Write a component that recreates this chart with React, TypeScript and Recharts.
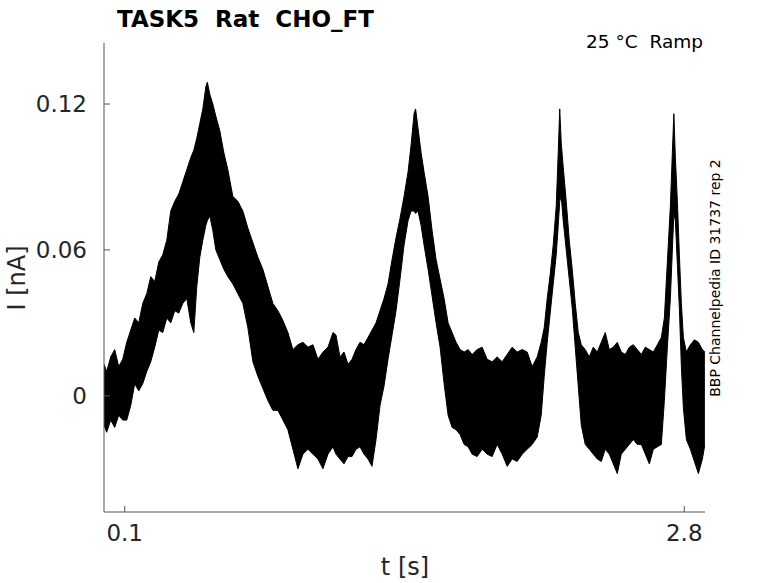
import { AreaChart, Area, XAxis, YAxis } from "recharts";

// sweep envelope (t in s, current in nA)
const times = [
  0.0, 0.013, 0.0324, 0.0517, 0.071, 0.0903, 0.1097, 0.129, 0.1483, 0.1676,
  0.187, 0.2063, 0.2256, 0.2449, 0.2643, 0.2836, 0.3029, 0.3222, 0.3415, 0.3609,
  0.3802, 0.3995, 0.4188, 0.4333, 0.4478, 0.4623, 0.4768, 0.4913, 0.4986, 0.5106,
  0.5251, 0.5396, 0.5589, 0.5783, 0.5976, 0.6217, 0.6459, 0.67, 0.6942, 0.7184,
  0.7425, 0.7667, 0.7908, 0.815, 0.8391, 0.8633, 0.8874, 0.9116, 0.9357, 0.9599,
  0.9841, 1.0082, 1.0324, 1.0565, 1.0807, 1.1048, 1.1193, 1.1386, 1.158, 1.1773,
  1.1966, 1.2159, 1.2353, 1.2546, 1.2739, 1.2932, 1.3126, 1.3319, 1.3512, 1.3705,
  1.3899, 1.4092, 1.4285, 1.4478, 1.4671, 1.4816, 1.4961, 1.5034, 1.5155, 1.53,
  1.5444, 1.5638, 1.5831, 1.6024, 1.6217, 1.6411, 1.6604, 1.6797, 1.699, 1.7184,
  1.7377, 1.757, 1.7763, 1.8005, 1.8246, 1.8488, 1.8729, 1.8971, 1.9213, 1.9454,
  1.9696, 1.9937, 2.0179, 2.042, 2.0662, 2.0903, 2.1097, 2.1242, 2.1386, 2.1531,
  2.1676, 2.1821, 2.1918, 2.199, 2.2063, 2.2159, 2.2304, 2.2449, 2.2594, 2.2739,
  2.2884, 2.3029, 2.3222, 2.3415, 2.3609, 2.3802, 2.3995, 2.4188, 2.4382, 2.4575,
  2.4768, 2.4961, 2.5155, 2.5348, 2.5541, 2.5734, 2.5928, 2.6121, 2.6314, 2.6507,
  2.67, 2.6894, 2.7039, 2.7184, 2.7329, 2.7425, 2.7498, 2.757, 2.7667, 2.7763,
  2.786, 2.7957, 2.8101, 2.8295, 2.8488, 2.8681, 2.8874, 2.8995,
];

const upper = [
  0.013, 0.01, 0.016, 0.019, 0.012, 0.015, 0.022, 0.027, 0.032, 0.03,
  0.038, 0.042, 0.049, 0.047, 0.055, 0.058, 0.064, 0.076, 0.08, 0.083,
  0.088, 0.093, 0.098, 0.101, 0.106, 0.112, 0.118, 0.127, 0.129, 0.124,
  0.12, 0.115, 0.109, 0.1, 0.093, 0.082, 0.08, 0.076, 0.069, 0.063,
  0.057, 0.052, 0.045, 0.038, 0.035, 0.031, 0.026, 0.019, 0.021, 0.022,
  0.02, 0.021, 0.015, 0.018, 0.02, 0.026, 0.025, 0.016, 0.018, 0.013,
  0.015, 0.019, 0.022, 0.021, 0.024, 0.027, 0.03, 0.035, 0.04, 0.046,
  0.056, 0.065, 0.073, 0.082, 0.092, 0.103, 0.116, 0.118, 0.11, 0.1,
  0.092, 0.082, 0.068, 0.056, 0.048, 0.04, 0.03, 0.026, 0.022, 0.019,
  0.018, 0.019, 0.017, 0.019, 0.02, 0.015, 0.014, 0.016, 0.014, 0.017,
  0.02, 0.018, 0.019, 0.018, 0.012, 0.016, 0.022, 0.028, 0.04, 0.05,
  0.062, 0.078, 0.1, 0.118, 0.104, 0.094, 0.08, 0.064, 0.052, 0.038,
  0.026, 0.021, 0.019, 0.016, 0.02, 0.018, 0.022, 0.026, 0.019, 0.02,
  0.022, 0.018, 0.017, 0.02, 0.021, 0.019, 0.017, 0.02, 0.019, 0.018,
  0.021, 0.024, 0.032, 0.055, 0.078, 0.1, 0.116, 0.098, 0.08, 0.058,
  0.038, 0.024, 0.018, 0.021, 0.023, 0.022, 0.019, 0.018,
];

const lower = [
  -0.012, -0.015, -0.01, -0.013, -0.008, -0.01, -0.01, -0.004, 0.005, 0.002,
  0.005, 0.01, 0.014, 0.02, 0.027, 0.026, 0.032, 0.03, 0.035, 0.034,
  0.038, 0.04, 0.03, 0.026, 0.045, 0.057, 0.064, 0.07, 0.072, 0.074,
  0.068, 0.06, 0.056, 0.052, 0.049, 0.046, 0.042, 0.038, 0.028, 0.014,
  0.008, 0.003, -0.002, -0.006, -0.006, -0.01, -0.014, -0.022, -0.03, -0.024,
  -0.022, -0.024, -0.026, -0.03, -0.024, -0.021, -0.024, -0.026, -0.028, -0.025,
  -0.025, -0.022, -0.021, -0.024, -0.026, -0.029, -0.018, -0.004, 0.004, 0.015,
  0.025, 0.035, 0.048, 0.062, 0.072, 0.076, 0.076, 0.075, 0.076, 0.07,
  0.062, 0.052, 0.041, 0.03, 0.02, 0.005, -0.008, -0.013, -0.014, -0.016,
  -0.02, -0.021, -0.024, -0.025, -0.022, -0.024, -0.025, -0.02, -0.024, -0.029,
  -0.026, -0.027, -0.024, -0.022, -0.02, -0.017, -0.008, 0.008, 0.022, 0.034,
  0.046, 0.058, 0.07, 0.08, 0.082, 0.072, 0.06, 0.048, 0.036, 0.02,
  0.004, -0.012, -0.02, -0.022, -0.024, -0.026, -0.027, -0.022, -0.024, -0.028,
  -0.032, -0.024, -0.022, -0.02, -0.018, -0.02, -0.02, -0.024, -0.028, -0.022,
  -0.021, -0.02, -0.002, 0.02, 0.04, 0.06, 0.075, 0.072, 0.054, 0.036,
  0.012, -0.005, -0.018, -0.022, -0.027, -0.032, -0.026, -0.02,
];

const xTicks = [0.1, 2.8];
const yTicks = [0, 0.06, 0.12];

const data = times.map((t, i) => ({ t, range: [lower[i], upper[i]] }));

const FONT = "'DejaVu Sans', sans-serif";
const AXIS = "#555";

function YTick({ x, y, payload }: any) {
  return (
    <g>
      <line x1={x} x2={x + 6} y1={y} y2={y} stroke={AXIS} />
      <text
        x={x - 17}
        y={y}
        textAnchor="end"
        dominantBaseline="central"
        fontSize={23}
        fontFamily={FONT}
        fill="#262626"
      >
        {String(payload.value)}
      </text>
    </g>
  );
}

function XTick({ x, y, payload }: any) {
  return (
    <g>
      <line x1={x} x2={x} y1={y} y2={y - 6} stroke={AXIS} />
      <text
        x={x}
        y={y + 21}
        textAnchor="middle"
        dominantBaseline="central"
        fontSize={23}
        fontFamily={FONT}
        fill="#262626"
      >
        {String(payload.value)}
      </text>
    </g>
  );
}

export default function App() {
  return (
    <div style={{ position: "absolute", left: 0, top: 0, width: 778, height: 583, background: "#fff" }}>
      <AreaChart
        width={778}
        height={583}
        data={data}
        margin={{ top: 43, right: 73, bottom: 41, left: 64 }}
      >
        <XAxis
          type="number"
          dataKey="t"
          domain={[0, 2.9]}
          ticks={xTicks}
          height={30}
          tickSize={0}
          tickMargin={0}
          tickLine={false}
          tick={<XTick />}
          axisLine={{ stroke: AXIS }}
          allowDataOverflow
        />
        <YAxis
          type="number"
          domain={[-0.0478, 0.1451]}
          ticks={yTicks}
          width={40}
          tickSize={0}
          tickMargin={0}
          tickLine={false}
          tick={<YTick />}
          axisLine={{ stroke: AXIS }}
          allowDataOverflow
        />
        <Area
          type="linear"
          dataKey="range"
          stroke="#000"
          strokeWidth={1}
          fill="#000"
          fillOpacity={1}
          dot={false}
          activeDot={false}
          isAnimationActive={false}
        />
      </AreaChart>
      <svg
        width={778}
        height={583}
        style={{ position: "absolute", left: 0, top: 0, pointerEvents: "none" }}
        fontFamily={FONT}
      >
        <text x={117} y={26.5} fontSize={23} fontWeight="bold" fill="#000" style={{ whiteSpace: "pre" }}>
          {"TASK5  Rat  CHO_FT"}
        </text>
        <text x={703} y={48} fontSize={18.5} textAnchor="end" fill="#000" style={{ whiteSpace: "pre" }}>
          {"25 °C  Ramp"}
        </text>
        <text
          x={715}
          y={278}
          fontSize={14}
          textAnchor="middle"
          dominantBaseline="central"
          fill="#000"
          transform="rotate(-90 715 278)"
        >
          BBP Channelpedia ID 31737 rep 2
        </text>
        <text x={405} y={567} fontSize={24} textAnchor="middle" dominantBaseline="central" fill="#262626">
          t [s]
        </text>
        <text
          x={17}
          y={278}
          fontSize={24}
          textAnchor="middle"
          dominantBaseline="central"
          fill="#262626"
          transform="rotate(-90 17 278)"
        >
          I [nA]
        </text>
      </svg>
    </div>
  );
}
